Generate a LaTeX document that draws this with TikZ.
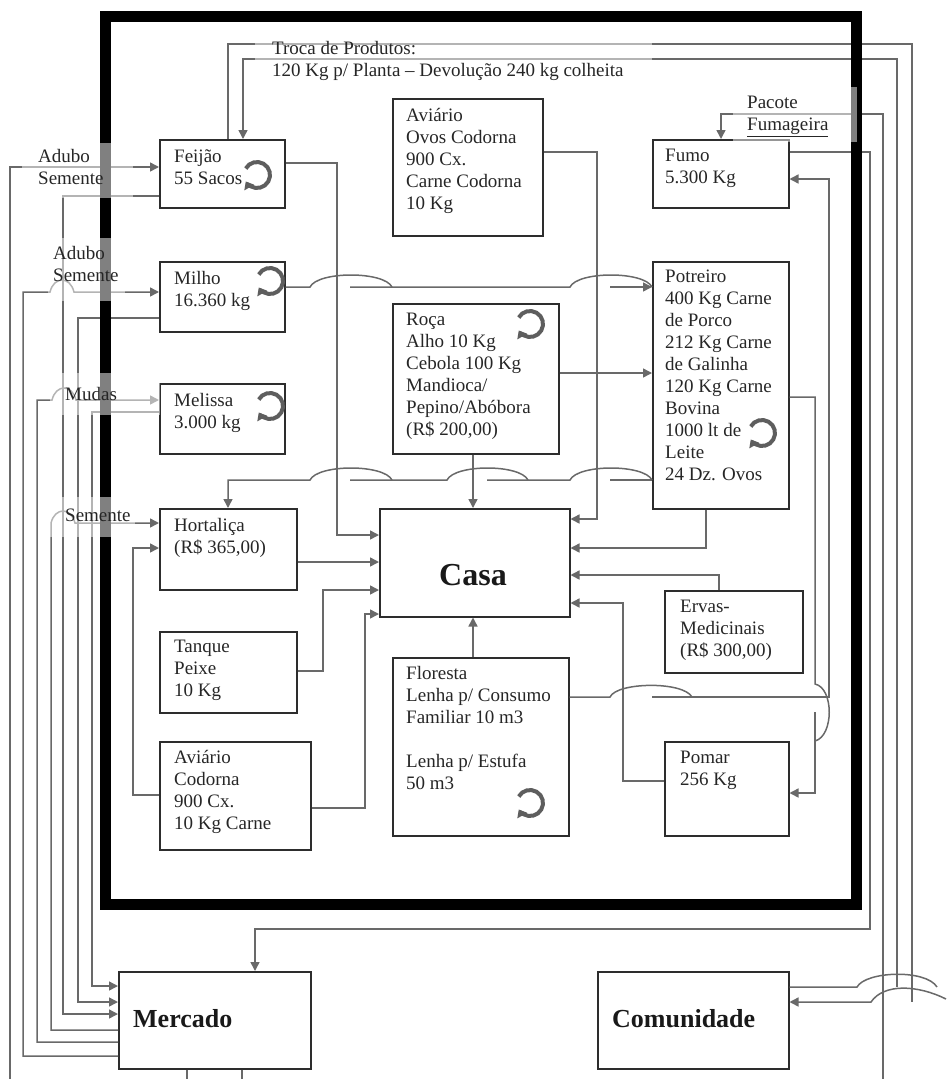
\documentclass[tikz,border=0pt]{standalone}
\usepackage{fontspec}
\setmainfont{Liberation Serif}
\usetikzlibrary{arrows.meta}
\definecolor{cinza}{RGB}{105,105,105}
\definecolor{borda}{RGB}{45,45,45}

\begin{document}
\begin{tikzpicture}[x=1pt, y=-1pt,
    caixa/.style={draw=borda, line width=1.5pt, anchor=north west, inner sep=0pt},
    texto/.style={anchor=base west, align=left, inner sep=0pt, text=black!85, font=\fontsize{19}{22}\selectfont},
    titulo/.style={anchor=base west, inner sep=0pt, text=black!90, font=\bfseries\fontsize{26}{30}\selectfont},
    fio/.style={draw=cinza, line width=1.5pt},
    seta/.style={-{Triangle[length=9pt, width=9pt]}},
    ciclo/.style={draw=cinza!90!black, line width=4pt, -{Triangle[length=7pt, width=11pt]}},
    veu/.style={fill=white, fill opacity=0.5}]
    \useasboundingbox (0,0) rectangle (946,1079);
    % Caixas
    \node[caixa, minimum width=125pt, minimum height=68pt] (feijao) at (159,139) {};
    \node[caixa, minimum width=125pt, minimum height=70pt] (milho) at (159,261) {};
    \node[caixa, minimum width=125pt, minimum height=70pt] (melissa) at (159,383) {};
    \node[caixa, minimum width=137pt, minimum height=81pt] (hortalica) at (159,508) {};
    \node[caixa, minimum width=137pt, minimum height=81pt] (tanque) at (159,631) {};
    \node[caixa, minimum width=151pt, minimum height=108pt] (codorna) at (159,741) {};
    \node[caixa, minimum width=150pt, minimum height=137pt] (aviario) at (392,98) {};
    \node[caixa, minimum width=166pt, minimum height=150pt] (roca) at (392,303) {};
    \node[caixa, minimum width=190pt, minimum height=108pt] (casa) at (379,508) {};
    \node[caixa, minimum width=176pt, minimum height=178pt] (floresta) at (392,657) {};
    \node[caixa, minimum width=136pt, minimum height=68pt] (fumo) at (652,139) {};
    \node[caixa, minimum width=136pt, minimum height=247pt] (potreiro) at (652,261) {};
    \node[caixa, minimum width=138pt, minimum height=82pt] (ervas) at (664,590) {};
    \node[caixa, minimum width=124pt, minimum height=94pt] (pomar) at (664,741) {};
    \node[caixa, minimum width=192pt, minimum height=97pt] (mercado) at (118,971) {};
    \node[caixa, minimum width=191pt, minimum height=97pt] (comunidade) at (597,971) {};
    % Textos das caixas (ancorados na linha de base da ultima linha)
    \node[texto] (feijaotxt) at (174,184.5) {Feijão\\55 Sacos};
    \node[texto] (milhotxt) at (174,306.5) {Milho\\16.360 kg};
    \node[texto] (melissatxt) at (174,428.5) {Melissa\\3.000 kg};
    \node[texto] (hortalicatxt) at (174,553.5) {Hortaliça\\(R\$ 365,00)};
    \node[texto] (tanquetxt) at (174,696.5) {Tanque\\Peixe\\10 Kg};
    \node[texto] (codornatxt) at (174,829.5) {Aviário\\Codorna\\900 Cx.\\10 Kg Carne};
    \node[texto] (aviariotxt) at (406,209.5) {Aviário\\Ovos Codorna\\900 Cx.\\Carne Codorna\\10 Kg};
    \node[texto] (rocatxt) at (406,435.5) {Roça\\Alho 10 Kg\\Cebola 100 Kg\\Mandioca/\\Pepino/Abóbora\\(R\$ 200,00)};
    \node[texto] (florestatxt) at (406,789.5) {Floresta\\Lenha p/ Consumo\\Familiar 10 m3\\[22pt]Lenha p/ Estufa\\50 m3};
    \node[texto] (fumotxt) at (665,183.5) {Fumo\\5.300 Kg};
    \node[texto] (potreirotxt) at (665,480.5) {Potreiro\\400 Kg Carne\\de Porco\\212 Kg Carne\\de Galinha\\120 Kg Carne\\Bovina\\1000 lt de\\Leite\\24 Dz. Ovos};
    \node[texto] (ervastxt) at (680,656.5) {Ervas-\\Medicinais\\(R\$ 300,00)};
    \node[texto] (pomartxt) at (680,785.5) {Pomar\\256 Kg};
    \node[titulo, anchor=base, font=\bfseries\fontsize{32}{36}\selectfont] (casatxt) at (473,585) {Casa};
    \node[titulo] (mercadotxt) at (133,1027) {Mercado};
    \node[titulo] (comunidadetxt) at (612,1027) {Comunidade};
    % Ciclos
    \foreach \cx/\cy in {257/175, 270/281, 270/406, 530/324, 762/433, 530/803} {
        \draw[ciclo] (\cx,\cy) ++(-150:13) arc[start angle=-150, end angle=150, radius=13];
    }
    % Pontos de fora
    \coordinate (entradaAdubo) at (10,1079);
    \coordinate (entradaFumo) at (883,1079);
    \coordinate (saidaA) at (187,1079);
    \coordinate (saidaB) at (242,1079);
    % Troca de produtos com a comunidade
    \draw[fio] (feijao.north -| 228,0) |- (912,44) -- (912,1002);
    \draw[fio, seta] (946,999) .. controls (918,985) and (884,983) .. (871,1002) -- (comunidade.east |- 0,1002);
    \draw[fio] (comunidade.east |- 0,987) -- (857,987) .. controls (866,971) and (926,969) .. (937,987);
    \draw[fio, seta] (897,987) |- (243,59) -- (feijao.north -| 243,0);
    % Fumo
    \draw[fio, seta] (entradaFumo) |- (721,114) -- (fumo.north -| 721,0);
    \draw[fio, seta] (fumo.east |- 0,152) -| (870,929) -| (mercado.north -| 255,0);
    \draw[fio] (floresta.east |- 0,697) -- (610,697) .. controls (617,682) and (683,681) .. (692,697);
    \draw[fio, seta] (652,697) -| (829,179) -- (fumo.east |- 0,179);
    % Potreiro
    \draw[fio] (potreiro.east |- 0,397) -| (815,684) .. controls (834,688) and (834,736) .. (815,741);
    \draw[fio, seta] (815,712) |- (pomar.east |- 0,793);
    \draw[fio, seta] (potreiro.south -| 706,0) |- (casa.east |- 0,548);
    % Entradas da casa pela direita
    \draw[fio, seta] (aviario.east |- 0,152) -| (597,519) -- (casa.east |- 0,519);
    \draw[fio, seta] (ervas.north -| 719,0) |- (casa.east |- 0,575);
    \draw[fio, seta] (pomar.west |- 0,781) -| (623,603) -- (casa.east |- 0,603);
    \draw[fio, seta] (floresta.north -| 473,0) -- (casa.south -| 473,0);
    \draw[fio, seta] (roca.south -| 473,0) -- (casa.north -| 473,0);
    \draw[fio, seta] (roca.east |- 0,373) -- (potreiro.west |- 0,373);
    % Milho -> Potreiro
    \draw[fio] (milho.east |- 0,287) -- (310,287) .. controls (318,271) and (384,271) .. (392,287);
    \draw[fio] (350,287) -- (570,287) .. controls (578,271) and (644,271) .. (652,287);
    \draw[fio, seta] (610,287) -- (potreiro.west |- 0,287);
    % Potreiro -> Hortalica
    \draw[fio] (potreiro.west |- 0,480) -- (610,480);
    \draw[fio] (652,480) .. controls (644,464) and (578,464) .. (570,480) -- (487,480);
    \draw[fio] (528,480) .. controls (520,464) and (455,464) .. (447,480) -- (350,480);
    \draw[fio, seta] (392,480) .. controls (384,464) and (318,464) .. (310,480) -| (hortalica.north -| 228,0);
    % Entradas da casa pela esquerda
    \draw[fio, seta] (feijao.east |- 0,163) -| (337,535) -- (casa.west |- 0,535);
    \draw[fio, seta] (hortalica.east |- 0,562) -- (casa.west |- 0,562);
    \draw[fio, seta] (tanque.east |- 0,671) -| (323,590) -- (casa.west |- 0,590);
    \draw[fio, seta] (codorna.east |- 0,808) -| (365,614) -- (casa.west |- 0,614);
    \draw[fio, seta] (codorna.west |- 0,795) -| (133,548) -- (hortalica.west |- 0,548);
    % Para o mercado
    \draw[fio, seta] (feijao.west |- 0,196) -| (63,1014) -- (mercado.west |- 0,1014);
    \draw[fio, seta] (milho.west |- 0,318) -| (78,1002) -- (mercado.west |- 0,1002);
    \draw[fio, seta] (melissa.west |- 0,412) -| (92,986) -- (mercado.west |- 0,986);
    % Do mercado
    \draw[fio, seta] (mercado.west |- 0,1030) -| (51,523) .. controls (55,507) and (71,507) .. (75,523) -- (hortalica.west |- 0,523);
    \draw[fio, seta] (mercado.west |- 0,1042) -| (37,400) -- (52,400) .. controls (56,384) and (72,384) .. (76,400) -- (melissa.west |- 0,400);
    \draw[fio, seta] (mercado.west |- 0,1056) -| (23,292) -- (50,292) .. controls (54,276) and (70,276) .. (74,292) -- (milho.west |- 0,292);
    \draw[fio, seta] (entradaAdubo) |- (feijao.west |- 0,167);
    \draw[fio] (mercado.south -| saidaA) -- (saidaA);
    \draw[fio] (mercado.south -| saidaB) -- (saidaB);
    % Propriedade
    \draw[line width=11pt] (105,16) rectangle (856.5,904);
    % Rotulos
    \fill[veu] (22,143) rectangle (133,198);
    \fill[veu] (48,238) rectangle (125,301);
    \fill[veu] (50,373) rectangle (160,415);
    \fill[veu] (50,497) rectangle (135,537);
    \fill[veu] (255,36) rectangle (652,82);
    \fill[veu] (733,87) rectangle (857,142);
    \node[texto] (adubo1) at (38,184.5) {Adubo\\Semente};
    \node[texto] (adubo2) at (53,281.5) {Adubo\\Semente};
    \node[texto] (mudas) at (65,400.5) {Mudas};
    \node[texto] (semente) at (65,521.5) {Semente};
    \node[texto] (troca) at (272,76.5) {Troca de Produtos:\\120 Kg p/ Planta – Devolução 240 kg colheita};
    \node[texto] (pacote) at (747,130.5) {Pacote\\\underline{Fumageira}};
\end{tikzpicture}
\end{document}
